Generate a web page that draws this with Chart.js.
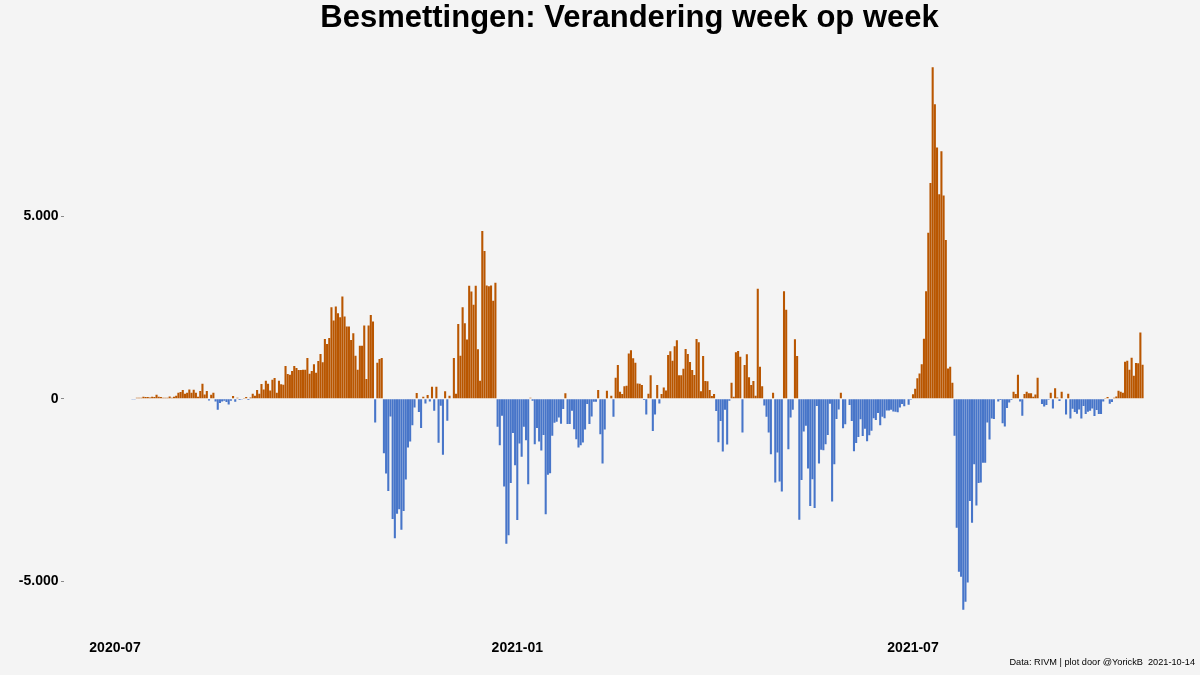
<!DOCTYPE html>
<html>
<head>
<meta charset="utf-8">
<script src="https://cdn.jsdelivr.net/npm/chart.js@4.4.1/dist/chart.umd.min.js"></script>
<style>
  html, body { margin: 0; padding: 0; background: #f4f4f4; }
  #wrap { width: 1200px; height: 675px; }
</style>
</head>
<body>
<div id="wrap"><canvas id="c" width="1200" height="675"></canvas></div>
<script>
// ---- data (daily change in infections vs. same day previous week) ----
const firstDate = '2020-07-09';
const axisOrigin = '2020-07-01';
const tickDates = ['2020-07-01', '2021-01-01', '2021-07-01'];
const tickLabels = ['2020-07', '2021-01', '2021-07'];
const yTickValues = [-5000, 0, 5000];
const titleText = 'Besmettingen: Verandering week op week';
const captionText = 'Data: RIVM | plot door @YorickB  2021-10-14';

const valuesJulAug2020 = [-18, -9, 27, 27, 27, 55, 46, 46, 37, 55, 46, 110, 55, 46, 27, 27, 27, 64, 27, 55,
  82, 165, 183, 238, 137, 165, 256, 165, 247, 165, 55, 211, 412, 119, 211, -46, 110, 165, -73, -302,
  -119, -73, -55, -92, -156, -55, 73, -82, 27, -37];

const valuesAugNov2020 = [-18, 9, 46, -37, 37, 137, 82, 238, 137, 403,
  256, 495, 412, 229, 522, 568, 165, 495, 394, 385,
  898, 678, 660, 760, 898, 843, 788, 788, 797, 797,
  1118, 687, 760, 943, 714, 1035, 1227, 998, 1640, 1502,
  1667, 2510, 2143, 2528, 2345, 2235, 2803, 2253, 1979, 1979,
  1612, 1795, 1182, 797, 1456, 1456, 2006, 540, 2006, 2299,
  2116, -650, 989, 1090, 1118, -1493, -2052, -2528, -485, -3298,
  -3829, -3151, -3032, -3591, -3078, -2217, -1337, -1172, -724, -238,
  156, -366, -806, 55, -128, 101, -73, 330, -330, 330, -1209];

const valuesNov2020Feb2021 = [-192, -1539, 202, -605, 82, 0, 1118, 137, 2052, 1182,
  2510, 2070, 1621, 3096, 2940, 2574, 3096, 1356, 495, 4598,
  4049, 3105, 3087, 3105, 2684, 3179, -769, -1273, -467, -2409,
  -3975, -3746, -2308, -943, -1823, -3325, -1227, -1594, -769, -1136,
  -2345, 27, -55, -1246, -806, -1172, -1420, -998, -3169, -2088,
  -2043, -1017, -660, -632, -513, -687, -284, 147, -696, -696,
  -330, -834, -1108, -1337, -1273, -1200, -843, -147, -696, -485,
  -82, -82, 238, -971, -1777, -843, 220, 0, 82, -495,
  577, 925, 192, 128, 339, 357, 1237, 1328, 1108, 989, 421, 412];

const valuesFebMay2021 = [375, -37, -430, 137, 641, -888, -430, 375, -128, 128,
  311, 229, 1200, 1301, 1044, 1438, 1603, 641, 641, 824,
  1365, 1227, 1008, 788, 650, 1640, 1548, 202, 1172, 485,
  476, 238, 73, 128, -339, -1191, -614, -1447, -302, -1255,
  -55, 440, 55, 1273, 1310, 1154, -925, 925, 1218, 586,
  375, 485, 82, 3014, 879, 339, -183, -495, -925, -1521,
  165, -2299, -1475, -2272, -2546, 2950, 2437, -1383, -513, -302,
  1630, 1172, -3316, -2226, -898, -742, -1915, -2940, -2208, -2995,
  -202, -1777, -1401, -1410, -1246, -998, -137, -2821, -1795, -559, -293];

const valuesMayJul2021 = [165, -807, -700, 0, -175, -612, -1439, -1215, -1050, -564,
  -1021, -826, -1166, -1001, -875, -535, -583, -389, -729, -496,
  -535, -321, -321, -301, -350, -360, -369, -243, -146, -204,
  0, -165, -29,
  126, 272, 564, 690, 943, 1643, 2945, 4549, 5919, 9088,
  8077, 6891, 5608, 6785, 5570, 4355, 826, 875, 437];

const valuesJulAug2021 = [-1017, -3536, -4745, -4882, -5789, -5569, -5038, -2803, -3398, -1795,
  -2931, -2308, -2299, -1759, -1759, -650, -1118, -540, -559, 0,
  -73, -37, -669, -760, -256, -100, -37];

const valuesAugOct2021 = [192, 128, 660, -73, -467, 128, 192, 147, 147, 55,
  119, 577, 0, -147, -211, -174, -27, 165, -266, 284,
  37, -64, 192, 0, -431, 137, -540, -275, -366, -410,
  -293, -540, -202, -421, -357, -330, -266, -476, -311, -421,
  -421, -73, 18, 46, -137, -92, 27, 64, 220, 192,
  165, 1017, 1044, 797, 1127, 632, 980, 971, 1814, 934];

// ---- build ----
const values = [].concat(valuesJulAug2020, valuesAugNov2020, valuesNov2020Feb2021,
  valuesFebMay2021, valuesMayJul2021, valuesJulAug2021, valuesAugOct2021);

const DAY = 86400000;
const toUTC = s => { const p = s.split('-').map(Number); return Date.UTC(p[0], p[1] - 1, p[2]); };
const origin = toUTC(axisOrigin);
const startDay = Math.round((toUTC(firstDate) - origin) / DAY);
const points = values.map((v, i) => ({ x: startDay + i, y: v }));
const tickDays = tickDates.map(d => Math.round((toUTC(d) - origin) / DAY));

const ORANGE = '#b95600';
const BLUE = '#4775c9';
const FONT = "'Liberation Sans', Arial, sans-serif";

// pixel mapping: 2020-07-01 at x=115, 2021-07-01 at x=913
const pxPerDay = (913 - 115) / 365;
const areaLeft = 64, areaRight = 1195;
const xMin = (areaLeft - 115) / pxPerDay;
const xMax = (areaRight - 115) / pxPerDay;

function fmtNL(v) {
  const s = Math.abs(v).toString().replace(/\B(?=(\d{3})+(?!\d))/g, '.');
  return (v < 0 ? '-' : '') + s;
}

new Chart(document.getElementById('c').getContext('2d'), {
  type: 'bar',
  data: {
    datasets: [{
      data: points,
      backgroundColor: c => (c.raw && c.raw.y < 0) ? BLUE : ORANGE,
      borderWidth: 0,
      barPercentage: 0.95,
      categoryPercentage: 1.0
    }]
  },
  options: {
    responsive: false,
    animation: false,
    devicePixelRatio: 1,
    layout: { padding: { left: 0, right: 1200 - areaRight, top: 0, bottom: 7 } },
    plugins: {
      legend: { display: false },
      tooltip: { enabled: false },
      title: {
        display: true, text: titleText, fullSize: false, color: '#000',
        font: { family: FONT, size: 31, weight: 'bold' },
        padding: { top: 0, bottom: 3 }
      },
      subtitle: {
        display: true, text: captionText, position: 'bottom', align: 'end', fullSize: false,
        color: '#000', font: { family: FONT, size: 9.2 }, padding: 0
      }
    },
    scales: {
      x: {
        type: 'linear', min: xMin, max: xMax, offset: false,
        afterBuildTicks: s => { s.ticks = tickDays.map(v => ({ value: v })); },
        afterFit: s => { s.height = 20; },
        ticks: {
          autoSkip: false, maxRotation: 0, padding: 3, color: '#000',
          font: { family: FONT, size: 14, weight: 'bold' },
          callback: (v) => { const k = tickDays.indexOf(v); return k >= 0 ? tickLabels[k] : ''; }
        },
        grid: { display: false, drawTicks: false },
        border: { display: false }
      },
      y: {
        min: -6533, max: 9832,
        afterBuildTicks: s => { s.ticks = yTickValues.map(v => ({ value: v })); },
        afterFit: s => { s.width = areaLeft; },
        ticks: {
          padding: 2.5, color: '#000',
          font: { family: FONT, size: 14, weight: 'bold' },
          callback: v => fmtNL(v)
        },
        grid: { display: true, drawOnChartArea: false, drawTicks: true, tickLength: 3, color: '#8a8a8a' },
        border: { display: false }
      }
    }
  }
});
</script>
</body>
</html>
